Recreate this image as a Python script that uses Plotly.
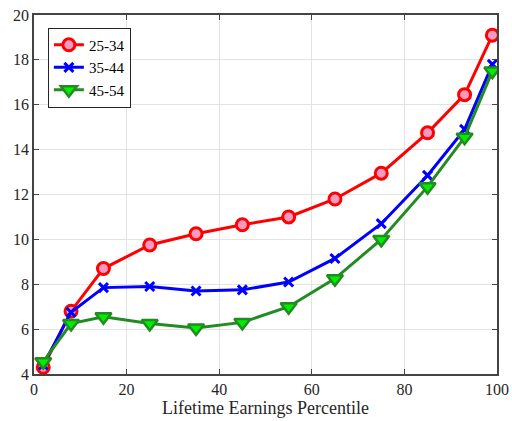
import plotly.graph_objects as go

percentile = [2, 8, 15, 25, 35, 45, 55, 65, 75, 85, 93, 99]
age_25_34 = [4.3, 6.8, 8.7, 9.75, 10.25, 10.65, 11.0, 11.8, 12.95, 14.75, 16.45, 19.1]
age_35_44 = [4.4, 6.75, 7.85, 7.9, 7.7, 7.75, 8.1, 9.15, 10.7, 12.85, 14.9, 17.8]
age_45_54 = [4.55, 6.25, 6.55, 6.25, 6.05, 6.3, 7.0, 8.25, 10.0, 12.35, 14.55, 17.5]

SERIF = "Liberation Serif, Times New Roman, serif"

fig = go.Figure()
fig.add_trace(go.Scatter(x=percentile, y=age_25_34, name="25-34", mode="lines+markers",
                         line=dict(color="#ff0000", width=3),
                         marker=dict(symbol="circle", size=12, color="#f79ac0",
                                     line=dict(color="#ff0000", width=3))))
fig.add_trace(go.Scatter(x=percentile, y=age_35_44, name="35-44", mode="lines+markers",
                         line=dict(color="#0000ff", width=3),
                         marker=dict(symbol="x-thin", size=9, color="#0000ff",
                                     line=dict(color="#0000ff", width=3))))
fig.add_trace(go.Scatter(x=percentile, y=age_45_54, name="45-54", mode="lines+markers",
                         line=dict(color="#228b22", width=3),
                         marker=dict(symbol="triangle-down", size=14, color="#00ee00",
                                     line=dict(color="#228b22", width=2.5))))

axis_common = dict(showline=True, linecolor="#444444", linewidth=1.5, mirror="ticks",
                   ticks="inside", ticklen=5, tickcolor="#444444", automargin=False,
                   showgrid=True, gridcolor="#e3e3e3", gridwidth=1, zeroline=False,
                   tickfont=dict(family=SERIF, size=16, color="#262626"))

fig.update_xaxes(range=[0, 100], dtick=20,
                 title=dict(text="Lifetime Earnings Percentile", standoff=4,
                            font=dict(family=SERIF, size=18, color="#262626")),
                 **axis_common)
fig.update_yaxes(range=[4, 20], dtick=2, **axis_common)

fig.update_layout(
    width=512, height=421,
    margin=dict(l=34, r=15, t=15, b=47),
    plot_bgcolor="white", paper_bgcolor="white",
    font=dict(family=SERIF, color="#262626"),
    legend=dict(x=0.03, y=0.965, xanchor="left", yanchor="top",
                bgcolor="white", bordercolor="#262626", borderwidth=1,
                font=dict(family=SERIF, size=15, color="#000000"),
                tracegroupgap=0, itemwidth=30),
    showlegend=True,
)

fig.write_html("out.html", config={"displayModeBar": False},
               post_script="document.body.style.margin='0px';")
